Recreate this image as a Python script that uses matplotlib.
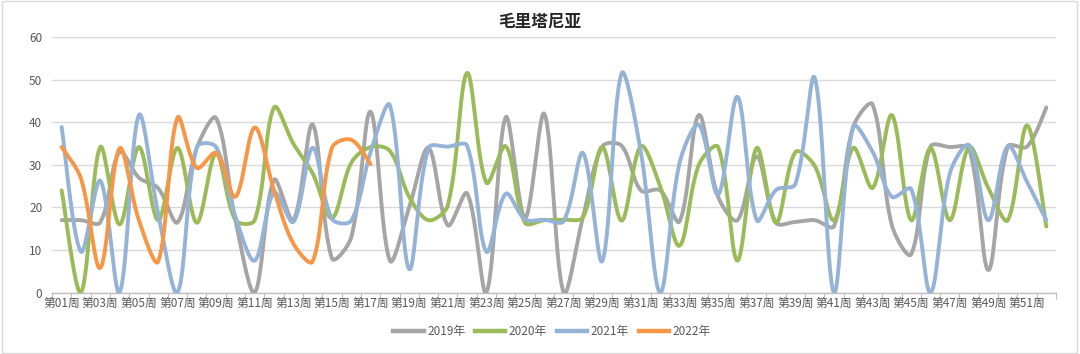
import numpy as np
import matplotlib
matplotlib.use("Agg")
import matplotlib.pyplot as plt
from matplotlib.lines import Line2D
from matplotlib.patches import Rectangle

plt.rcParams['font.family'] = ['Noto Sans CJK SC', 'DejaVu Sans']

weeks = [f"第{i:02d}周" for i in range(1, 53)]
series_names = ["2019年", "2020年", "2021年", "2022年"]

v2019 = [17, 17, 16.5, 33, 27, 24.5, 16.5, 34, 41, 17, 0, 26.5, 17, 39.5, 8, 13,
         42.5, 7.5, 20, 34, 15.8, 23.3, 0, 41.2, 17.5, 42, 0, 17.7, 34.3, 34.5,
         24, 24, 16.7, 41.7, 22.5, 17, 32, 16.4, 16.6, 17, 15.6, 39, 44.2, 15.8,
         9, 34.3, 34.2, 33.8, 5.3, 34.3, 34.3, 43.5]
v2020 = [24, 0, 34.2, 16, 34.2, 17, 34, 16.4, 32.7, 17, 17, 43.5, 35, 28, 17.5, 30.5,
         34.2, 33.3, 22.5, 17, 20.5, 51.6, 25.8, 34.4, 16.4, 17, 17.1, 17.7, 34.2, 16.9,
         34.4, 25, 11, 30, 34.2, 7.5, 34, 16.4, 33, 29.8, 17, 34, 24.6, 41.7,
         17, 34, 17, 34.2, 24.5, 17, 39.3, 15.5]
v2021 = [38.9, 9.6, 26.3, 0, 41.7, 18.5, 0, 34.2, 34.2, 17.8, 7.5, 23.5, 16.6, 34, 17.3, 16.9,
         33, 44, 5.5, 34, 34.3, 34.5, 9.6, 23.2, 17.2, 17.1, 16.8, 32.8, 7.4, 51.5,
         33, 0, 30.4, 39.4, 23, 46, 17, 24.1, 25.5, 50.5, 0, 39, 33.1, 22.5,
         24.3, 0, 28, 34.6, 17, 34.4, 26, 17]
v2022 = [34.2, 26.8, 5.8, 33.9, 17, 7.3, 41.1, 29.3, 32.8, 22.5, 38.8, 24, 11.5, 7.3,
         34, 35.9, 30.2]

colors = ["#a5a5a5", "#9bbb59", "#95b3d7", "#f79646"]

XPX = 19.3   # pixels per category (for Excel-like smoothing)
YPX = 4.25   # pixels per value unit


def smooth(y):
    y = np.asarray(y, float)
    x = np.arange(1, len(y) + 1, dtype=float)
    n = len(y)
    P = np.column_stack([x, y])
    S = np.array([XPX, YPX])

    def dist(a, b):
        return np.hypot(*((P[a] - P[b]) * S))

    xs, ys = [], []
    t = np.linspace(0, 1, 30)
    for i in range(n - 1):
        p0, p3 = P[i], P[i + 1]
        d12 = dist(i, i + 1)
        if i > 0:
            d01 = dist(i - 1, i)
            f = d12 / (d01 + d12) if d01 + d12 > 0 else 0.5
            c1 = p0 + (P[i + 1] - P[i - 1]) * f / 3.0
        else:
            c1 = p0 + (p3 - p0) / 3.0 * 0.5
        if i + 2 < n:
            d23 = dist(i + 1, i + 2)
            f = d12 / (d12 + d23) if d12 + d23 > 0 else 0.5
            c2 = p3 - (P[i + 2] - P[i]) * f / 3.0
        else:
            c2 = p3 - (p3 - p0) / 3.0 * 0.5
        b = ((1 - t) ** 3)[:, None] * p0 + (3 * (1 - t) ** 2 * t)[:, None] * c1 \
            + (3 * (1 - t) * t ** 2)[:, None] * c2 + (t ** 3)[:, None] * p3
        if i > 0:
            b = b[1:]
        xs.append(b[:, 0])
        ys.append(b[:, 1])
    return np.concatenate(xs), np.concatenate(ys)


fig = plt.figure(figsize=(10.8, 3.54), dpi=100)
fig.patches.append(Rectangle((0.002, 0.003), 0.995, 0.994, transform=fig.transFigure,
                             fill=False, edgecolor="#d9d9d9", linewidth=1.0))
ax = fig.add_axes([52 / 1080, 1 - 292.5 / 354, (1056 - 52) / 1080, (292.5 - 37.3) / 354])

handles = []
for vals, name, col in zip([v2019, v2020, v2021, v2022], series_names, colors):
    sx, sy = smooth(vals)
    ax.plot(sx, sy, color=col, linewidth=2.8, solid_capstyle="round", zorder=3)
    handles.append(Line2D([0], [0], color=col, linewidth=3.2, label=name))

ax.set_xlim(0.5, 52.5)
ax.set_ylim(0, 60)
ax.set_yticks(np.arange(0, 61, 10))
ax.yaxis.grid(True, color="#d9d9d9", linewidth=1.0)
ax.set_axisbelow(True)
ax.tick_params(axis="y", length=0, pad=7, labelsize=8.5, labelcolor="#595959")

ax.set_xticks(np.arange(0.5, 53, 1.0))
ax.set_xticklabels([])
ax.tick_params(axis="x", which="major", length=4, color="#bfbfbf", direction="out")
ax.set_xticks(np.arange(1, 53, 2), minor=True)
ax.set_xticklabels(weeks[::2], minor=True)
ax.tick_params(axis="x", which="minor", length=0, pad=3, labelsize=8.5, labelcolor="#595959")

for s in ["top", "right", "left"]:
    ax.spines[s].set_visible(False)
ax.spines["bottom"].set_color("#bfbfbf")
ax.spines["bottom"].set_linewidth(1.0)

fig.text(0.5, 1 - 22 / 354, "毛里塔尼亚", ha="center", va="center", fontsize=12,
         fontweight="bold", color="#262626")

fig.legend(handles=handles, loc="center", bbox_to_anchor=(552 / 1080, 1 - 332 / 354),
           ncol=4, frameon=False, fontsize=8.5, handlelength=2.6, handletextpad=0.3,
           columnspacing=0.8, labelcolor="#595959")

fig.savefig("out.png", dpi=100)
